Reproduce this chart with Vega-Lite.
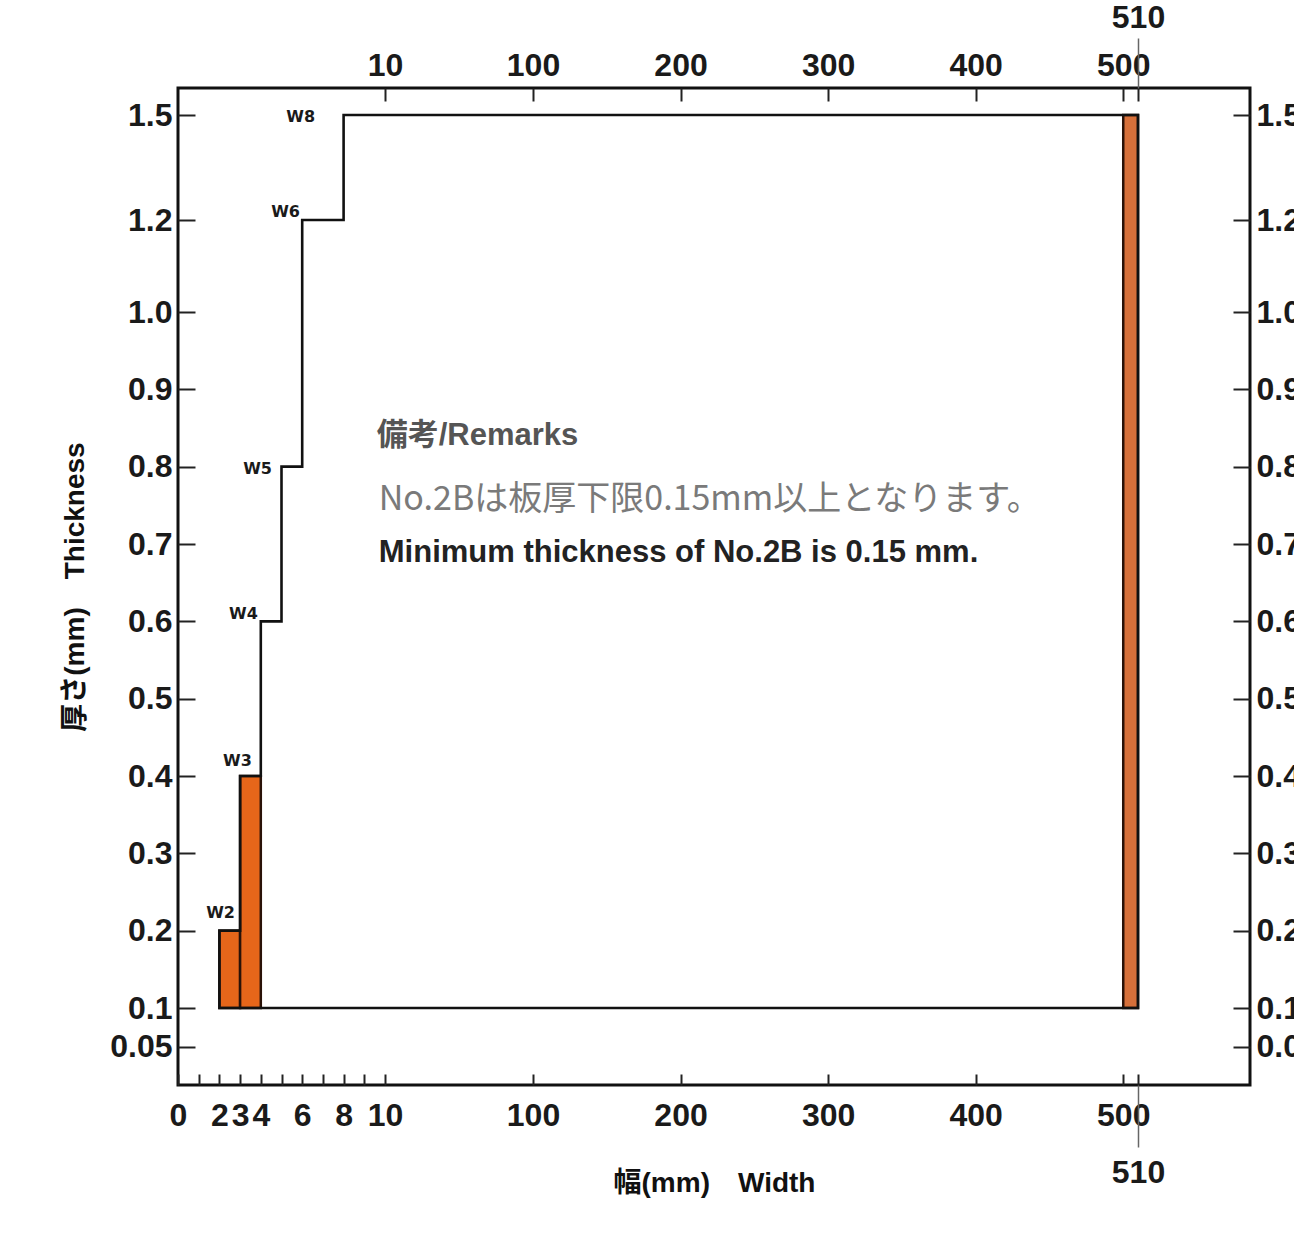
{
  "$schema": "https://vega.github.io/schema/vega-lite/v6.json",
  "width": 1072,
  "height": 997,
  "autosize": {"type": "none"},
  "padding": {"left": 178, "top": 88, "right": 44, "bottom": 170},
  "background": "white",
  "config": {
    "view": {"stroke": "#111", "strokeWidth": 3},
    "axis": {
      "domain": false,
      "grid": false,
      "labelFont": "Liberation Sans",
      "labelFontWeight": "bold",
      "labelFontSize": 32,
      "labelColor": "#1a1a1a",
      "tickColor": "#222",
      "tickWidth": 2,
      "titleFont": "Liberation Sans, Noto Sans CJK JP",
      "titleFontWeight": "bold",
      "titleFontSize": 28,
      "titleColor": "#111"
    }
  },
  "datasets": {
    "fills": [
      {"w0": 2, "w1": 3, "t0": 0.1, "t1": 0.2, "side": "left"},
      {"w0": 3, "w1": 4, "t0": 0.1, "t1": 0.4, "side": "left"},
      {"w0": 500, "w1": 510, "t0": 0.1, "t1": 1.5, "side": "right"}
    ],
    "outline": [
      {"i": 0, "w": 2, "t": 0.1},
      {"i": 1, "w": 2, "t": 0.2},
      {"i": 2, "w": 3, "t": 0.2},
      {"i": 3, "w": 3, "t": 0.4},
      {"i": 4, "w": 4, "t": 0.4},
      {"i": 5, "w": 4, "t": 0.6},
      {"i": 6, "w": 5, "t": 0.6},
      {"i": 7, "w": 5, "t": 0.8},
      {"i": 8, "w": 6, "t": 0.8},
      {"i": 9, "w": 6, "t": 1.2},
      {"i": 10, "w": 8, "t": 1.2},
      {"i": 11, "w": 8, "t": 1.5},
      {"i": 12, "w": 510, "t": 1.5},
      {"i": 13, "w": 510, "t": 0.1},
      {"i": 14, "w": 2, "t": 0.1}
    ],
    "steps": [
      {"label": "W2", "w": 2.75, "t": 0.223},
      {"label": "W3", "w": 3.57, "t": 0.419},
      {"label": "W4", "w": 3.86, "t": 0.61},
      {"label": "W5", "w": 4.54, "t": 0.797},
      {"label": "W6", "w": 5.89, "t": 1.223},
      {"label": "W8", "w": 6.62, "t": 1.494}
    ],
    "notes": [
      {"kind": "head", "text": "備考/Remarks", "w": 9.6, "t": 0.84},
      {"kind": "jp", "text": "No.2Bは板厚下限0.15mm以上となります。", "w": 9.7, "t": 0.757},
      {"kind": "en", "text": "Minimum thickness of No.2B is 0.15 mm.", "w": 9.7, "t": 0.688}
    ]
  },
  "resolve": {"axis": {"x": "independent", "y": "independent"}},
  "layer": [
    {
      "data": {"name": "fills"},
      "mark": {"type": "rect", "stroke": "#2a1208", "strokeWidth": 2.5},
      "encoding": {
        "x": {
          "field": "w0", "type": "quantitative",
          "scale": {"type": "linear", "domain": [0, 10, 100, 510, 586], "range": [0, 207, 355, 960, 1072], "nice": false, "zero": false},
          "axis": {
            "orient": "bottom",
            "values": [0, 1, 2, 3, 4, 5, 6, 7, 8, 9, 10, 100, 200, 300, 400, 500, 510],
            "labelExpr": "indexof([1,5,7,9,510], datum.value) >= 0 ? '' : datum.value + ''",
            "tickSize": -11,
            "labelPadding": 26,
            "labelFlush": false,
            "labelOverlap": false,
            "title": "幅(mm)　Width",
            "titlePadding": 38
          }
        },
        "x2": {"field": "w1"},
        "y": {
          "field": "t0", "type": "quantitative",
          "scale": {"type": "linear", "domain": [0, 0.1, 1.0, 1.2, 1.5, 1.577], "range": [997, 920, 224, 132, 27, 0], "nice": false, "zero": false},
          "axis": {
            "orient": "left",
            "values": [0.05, 0.1, 0.2, 0.3, 0.4, 0.5, 0.6, 0.7, 0.8, 0.9, 1.0, 1.2, 1.5],
            "labelExpr": "datum.value == 0.05 ? '0.05' : format(datum.value, '.1f')",
            "tickSize": -17,
            "labelPadding": 23,
            "labelFlush": false,
            "labelOverlap": false,
            "title": "厚さ(mm)　Thickness",
            "titlePadding": 20
          }
        },
        "y2": {"field": "t1"},
        "color": {
          "field": "side", "type": "nominal",
          "scale": {"domain": ["left", "right"], "range": ["#E6661A", "#D7703A"]},
          "legend": null
        }
      }
    },
    {
      "data": {"name": "outline"},
      "mark": {"type": "line", "color": "#111", "strokeWidth": 2.6, "strokeJoin": "miter", "strokeCap": "square"},
      "encoding": {
        "x": {
          "field": "w", "type": "quantitative",
          "scale": {"type": "linear", "domain": [0, 10, 100, 510, 586], "range": [0, 207, 355, 960, 1072], "nice": false, "zero": false},
          "axis": {
            "orient": "top",
            "values": [10, 100, 200, 300, 400, 500, 510],
            "labelExpr": "datum.value == 510 ? '' : datum.value + ''",
            "tickSize": -13,
            "labelPadding": 19,
            "labelFlush": false,
            "labelOverlap": false,
            "title": null
          }
        },
        "y": {
          "field": "t", "type": "quantitative",
          "scale": {"type": "linear", "domain": [0, 0.1, 1.0, 1.2, 1.5, 1.577], "range": [997, 920, 224, 132, 27, 0], "nice": false, "zero": false},
          "axis": {
            "orient": "right",
            "values": [0.05, 0.1, 0.2, 0.3, 0.4, 0.5, 0.6, 0.7, 0.8, 0.9, 1.0, 1.2, 1.5],
            "labelExpr": "datum.value == 0.05 ? '0.05' : format(datum.value, '.1f')",
            "tickSize": -17,
            "labelPadding": 23,
            "labelFlush": false,
            "labelOverlap": false,
            "title": null
          }
        },
        "order": {"field": "i", "type": "quantitative"}
      }
    },
    {
      "data": {"name": "steps"},
      "mark": {"type": "text", "align": "right", "baseline": "middle", "font": "DejaVu Sans", "fontWeight": "bold", "fontSize": 16, "color": "#1a1a1a"},
      "encoding": {
        "x": {
          "field": "w", "type": "quantitative",
          "scale": {"type": "linear", "domain": [0, 10, 100, 510, 586], "range": [0, 207, 355, 960, 1072], "nice": false, "zero": false},
          "axis": {
            "orient": "bottom",
            "values": [510],
            "labelExpr": "'510'",
            "tickSize": 62,
            "tickColor": "#666",
            "tickWidth": 1.5,
            "labelPadding": 10,
            "labelFlush": false,
            "title": null
          }
        },
        "y": {
          "field": "t", "type": "quantitative",
          "scale": {"type": "linear", "domain": [0, 0.1, 1.0, 1.2, 1.5, 1.577], "range": [997, 920, 224, 132, 27, 0], "nice": false, "zero": false},
          "axis": null
        },
        "text": {"field": "label"}
      }
    },
    {
      "data": {"name": "notes"},
      "transform": [{"filter": "datum.kind == 'head'"}],
      "mark": {"type": "text", "align": "left", "baseline": "middle", "font": "Liberation Sans, Noto Sans CJK JP", "fontWeight": "bold", "fontSize": 31, "color": "#555"},
      "encoding": {
        "x": {
          "field": "w", "type": "quantitative",
          "scale": {"type": "linear", "domain": [0, 10, 100, 510, 586], "range": [0, 207, 355, 960, 1072], "nice": false, "zero": false},
          "axis": {
            "orient": "top",
            "values": [510],
            "labelExpr": "'510'",
            "tickSize": 50,
            "tickColor": "#666",
            "tickWidth": 1.5,
            "labelPadding": 4,
            "labelFlush": false,
            "title": null
          }
        },
        "y": {
          "field": "t", "type": "quantitative",
          "scale": {"type": "linear", "domain": [0, 0.1, 1.0, 1.2, 1.5, 1.577], "range": [997, 920, 224, 132, 27, 0], "nice": false, "zero": false},
          "axis": null
        },
        "text": {"field": "text"}
      }
    },
    {
      "data": {"name": "notes"},
      "transform": [{"filter": "datum.kind == 'jp'"}],
      "mark": {"type": "text", "align": "left", "baseline": "middle", "font": "Noto Sans CJK JP", "fontWeight": "normal", "fontSize": 34, "color": "#7a7a7a"},
      "encoding": {
        "x": {
          "field": "w", "type": "quantitative",
          "scale": {"type": "linear", "domain": [0, 10, 100, 510, 586], "range": [0, 207, 355, 960, 1072], "nice": false, "zero": false},
          "axis": null
        },
        "y": {
          "field": "t", "type": "quantitative",
          "scale": {"type": "linear", "domain": [0, 0.1, 1.0, 1.2, 1.5, 1.577], "range": [997, 920, 224, 132, 27, 0], "nice": false, "zero": false},
          "axis": null
        },
        "text": {"field": "text"}
      }
    },
    {
      "data": {"name": "notes"},
      "transform": [{"filter": "datum.kind == 'en'"}],
      "mark": {"type": "text", "align": "left", "baseline": "middle", "font": "Liberation Sans", "fontWeight": "bold", "fontSize": 31, "color": "#222"},
      "encoding": {
        "x": {
          "field": "w", "type": "quantitative",
          "scale": {"type": "linear", "domain": [0, 10, 100, 510, 586], "range": [0, 207, 355, 960, 1072], "nice": false, "zero": false},
          "axis": null
        },
        "y": {
          "field": "t", "type": "quantitative",
          "scale": {"type": "linear", "domain": [0, 0.1, 1.0, 1.2, 1.5, 1.577], "range": [997, 920, 224, 132, 27, 0], "nice": false, "zero": false},
          "axis": null
        },
        "text": {"field": "text"}
      }
    }
  ]
}
